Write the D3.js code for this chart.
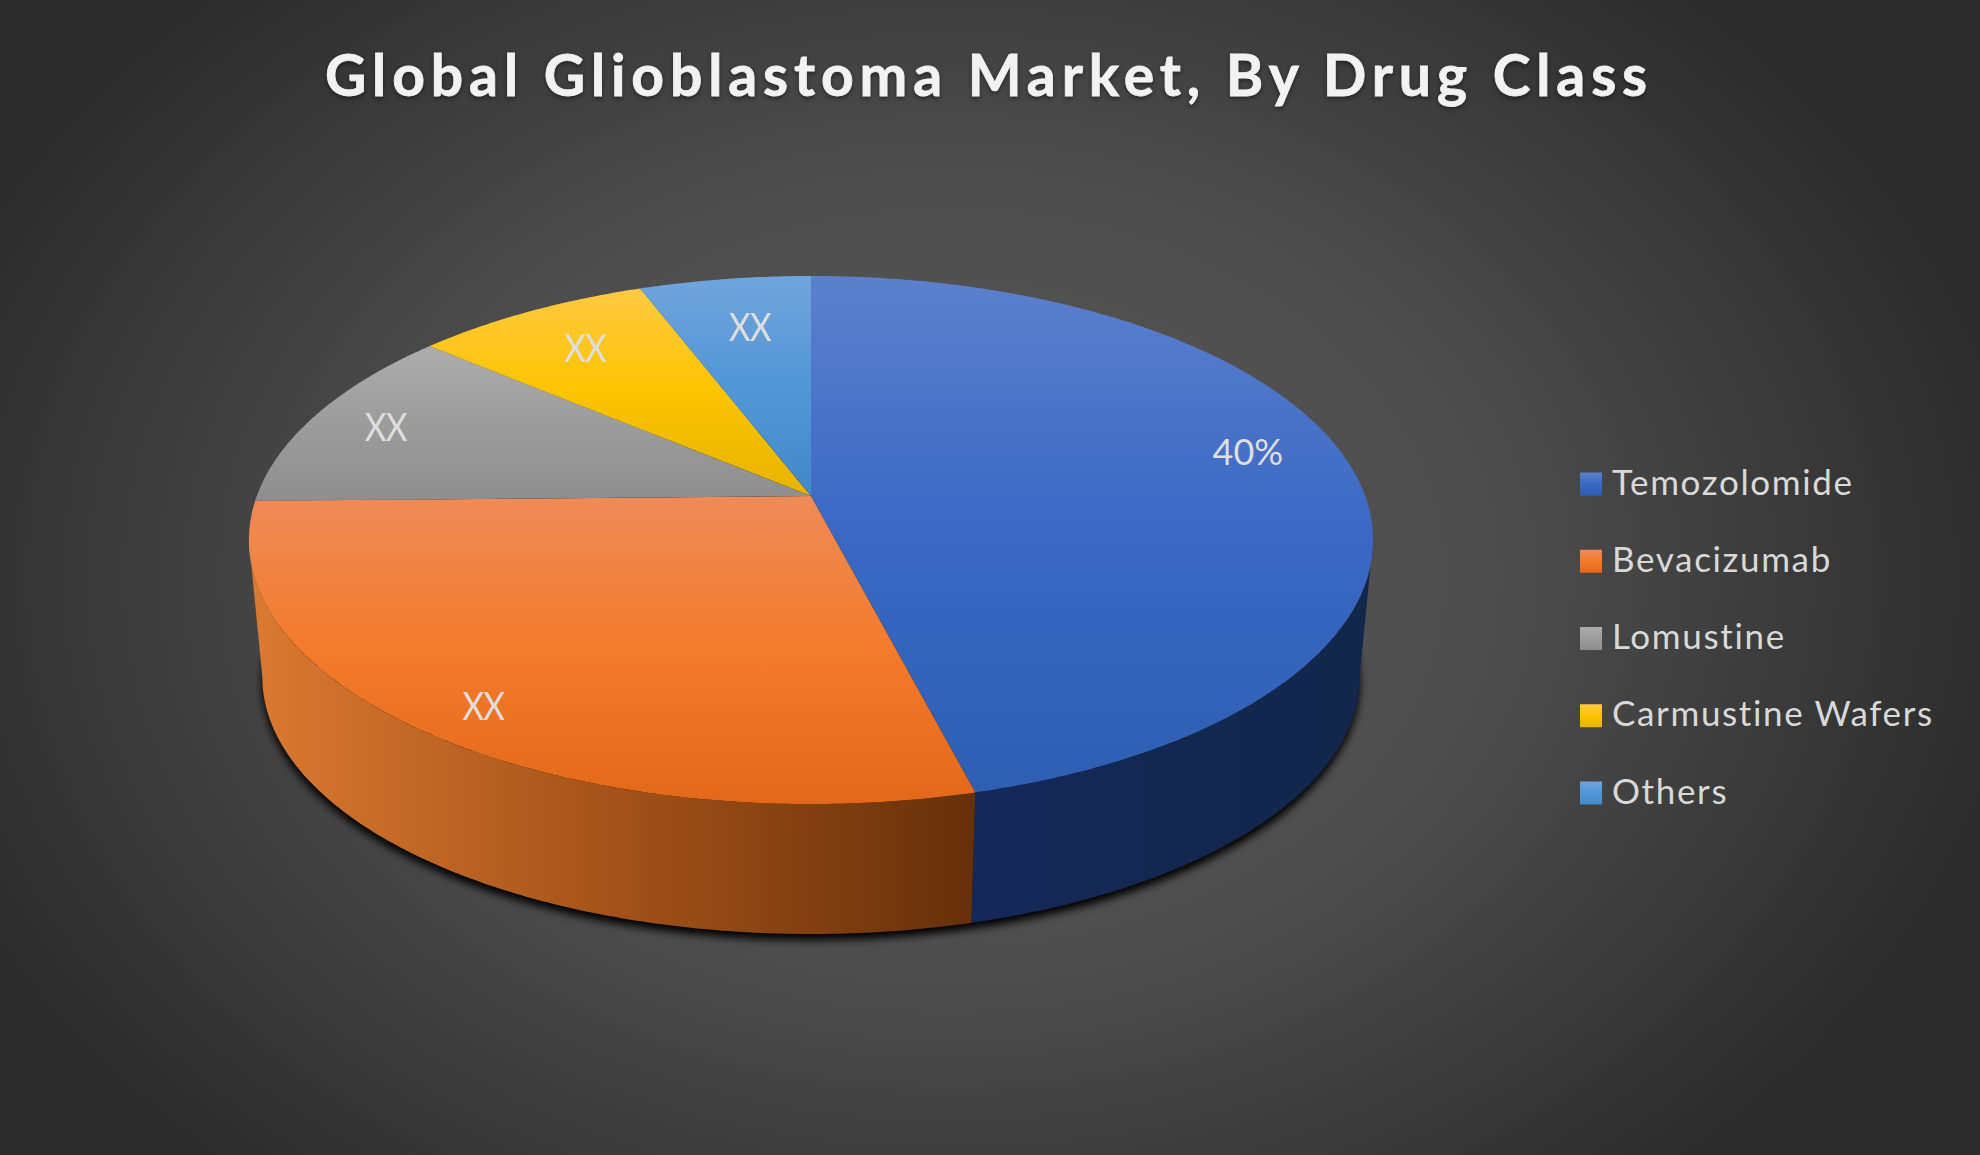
<!DOCTYPE html>
<html>
<head>
<meta charset="utf-8">
<title>Global Glioblastoma Market, By Drug Class</title>
<script src="https://cdn.jsdelivr.net/npm/d3@7"></script>
<style>
    html, body { margin: 0; padding: 0; background: #2b2b2b; overflow: hidden; }
    svg { display: block; }
    text { font-family: Lato, "Open Sans", sans-serif; }
</style>
</head>
<body>
<svg id="chart"></svg>
<script>
// chart values (angles, as % of the circle)
var titleText = "Global Glioblastoma Market, By Drug Class";
var categories = ["Temozolomide", "Bevacizumab", "Lomustine", "Carmustine Wafers", "Others"];
var shares = [46, 28.7, 11.5, 8, 5.8];
var labels = ["40%", "XX", "XX", "XX", "XX"];

// [top of slice, base colour, bottom of slice]
var topColors = [
    ["#5c80cc", "#3a68c4", "#2e5fb3"],
    ["#ee8b58", "#f37b2c", "#e3681a"],
    ["#adadad", "#9c9c9c", "#8e8e8e"],
    ["#ffca42", "#fcc400", "#e5b400"],
    ["#71a4db", "#5296d6", "#4289c8"]
];
var sideColors = [
    ["#14295a", "#132850", "#13274c"],
    ["#db7a32", "#a4521a", "#66300a"],
    ["#777777", "#666666", "#555555"],
    ["#a88000", "#8a6a00", "#705500"],
    ["#2f6a9f", "#28598a", "#204a75"]
];

var width = 1980, height = 1155;
var svg = d3.select("#chart").attr("width", width).attr("height", height);
var defs = svg.append("defs");

// background
var bg = defs.append("radialGradient").attr("id", "bg")
    .attr("gradientUnits", "userSpaceOnUse")
    .attr("cx", 0).attr("cy", 0).attr("r", 1)
    .attr("gradientTransform", "translate(950,577) scale(1090,810)");
bg.append("stop").attr("offset", 0).attr("stop-color", "#5a5a5a");
bg.append("stop").attr("offset", 0.5).attr("stop-color", "#4d4d4d");
bg.append("stop").attr("offset", 1).attr("stop-color", "#2b2b2b");
svg.append("rect").attr("width", width).attr("height", height).attr("fill", "url(#bg)");

// pie disc seen in perspective: circle point -> screen
var cx = 811;
var tilt = 0.1667;
var topPlane = {r: 554.2, a: 256.7, y: 496};
var basePlane = {r: 541, a: 250, y: 634};

function project(plane, angle, radius) {
    var px = Math.sin(angle) * radius;
    var py = -Math.cos(angle) * radius;
    var w = 1 - tilt * py;
    return [cx + plane.r * px / w, plane.y + plane.a * py / w];
}

function arcPoints(plane, a0, a1) {
    var n = Math.max(2, Math.ceil((a1 - a0) / 0.01));
    return d3.range(n + 1).map(function(i) {
        return project(plane, a0 + (a1 - a0) * i / n, 1);
    });
}

var line = d3.line();
var pie = d3.pie().sort(null).startAngle(0).endAngle(2 * Math.PI);
var slices = pie(shares);
var deg = Math.PI / 180;

// side wall shows between the two silhouette angles
var sideFrom = 99.6 * deg, sideTo = 260.4 * deg;

function vGrad(id, c) {
    var g = defs.append("linearGradient").attr("id", id)
        .attr("x1", 0).attr("y1", 0).attr("x2", 0).attr("y2", 1);
    g.append("stop").attr("offset", 0).attr("stop-color", c[0]);
    g.append("stop").attr("offset", 0.5).attr("stop-color", c[1]);
    g.append("stop").attr("offset", 1).attr("stop-color", c[2]);
}

function hGrad(id, c) {
    var g = defs.append("linearGradient").attr("id", id)
        .attr("x1", 0).attr("y1", 0).attr("x2", 1).attr("y2", 0);
    g.append("stop").attr("offset", 0).attr("stop-color", c[0]);
    g.append("stop").attr("offset", 0.5).attr("stop-color", c[1]);
    g.append("stop").attr("offset", 1).attr("stop-color", c[2]);
}

categories.forEach(function(d, i) {
    vGrad("top" + i, topColors[i]);
    hGrad("side" + i, sideColors[i]);
});

// shadow under the disc
defs.append("filter").attr("id", "blur")
    .attr("x", "-5%").attr("y", "-5%").attr("width", "110%").attr("height", "110%")
    .append("feGaussianBlur").attr("stdDeviation", 4);
svg.append("path")
    .attr("d", line(arcPoints(basePlane, 0, 2 * Math.PI)) + "Z")
    .attr("transform", "translate(0,6)")
    .attr("fill", "#000")
    .attr("filter", "url(#blur)");

svg.selectAll("path.side").data(slices).enter().append("path")
    .attr("class", "side")
    .attr("fill", function(d) { return "url(#side" + d.index + ")"; })
    .attr("d", function(d) {
        var a0 = Math.max(d.startAngle, sideFrom);
        var a1 = Math.min(d.endAngle, sideTo);
        if (a1 <= a0) return null;
        return line(arcPoints(topPlane, a0, a1).concat(arcPoints(basePlane, a0, a1).reverse())) + "Z";
    });

// top face
svg.selectAll("path.slice").data(slices).enter().append("path")
    .attr("class", "slice")
    .attr("fill", function(d) { return "url(#top" + d.index + ")"; })
    .attr("d", function(d) {
        return line([[cx, topPlane.y]].concat(arcPoints(topPlane, d.startAngle, d.endAngle))) + "Z";
    });

// data labels
var labelRadius = [0.83, 0.89, 0.85, 0.78, 0.75];
var labelNudge = [-5, -1.5, -0.5, 0, 0.9];
svg.selectAll("text.label").data(slices).enter().append("text")
    .attr("class", "label")
    .attr("text-anchor", "middle")
    .attr("dy", "0.36em")
    .attr("font-size", function(d) { return d.index == 0 ? 36 : 38; })
    .attr("letter-spacing", function(d) { return d.index == 0 ? 0 : -1; })
    .attr("fill", "#dedede")
    .attr("transform", function(d) {
        var mid = (d.startAngle + d.endAngle) / 2 + labelNudge[d.index] * deg;
        var sx = d.index == 0 ? 1 : 0.88;
        return "translate(" + project(topPlane, mid, labelRadius[d.index]) + ") scale(" + sx + ",1)";
    })
    .text(function(d) { return labels[d.index]; });

// title
svg.append("text")
    .attr("x", 989)
    .attr("y", 96)
    .attr("text-anchor", "middle")
    .attr("font-size", 57)
    .attr("font-weight", 700)
    .attr("letter-spacing", 5.9)
    .attr("fill", "#f2f2f2")
    .attr("stroke", "#f2f2f2")
    .attr("stroke-width", 0.8)
    .style("filter", "drop-shadow(0 2px 2px rgba(0,0,0,0.45))")
    .text(titleText);

// legend
var legendY = d3.scalePoint().domain(categories).range([484, 793]);
var legend = svg.selectAll("g.legend").data(categories).enter().append("g")
    .attr("class", "legend")
    .attr("transform", function(d) { return "translate(1580," + legendY(d) + ")"; });
legend.append("rect")
    .attr("y", -11.5)
    .attr("width", 22)
    .attr("height", 23)
    .attr("fill", function(d, i) { return "url(#top" + i + ")"; });
legend.append("text")
    .attr("x", 32)
    .attr("y", 10.5)
    .attr("font-size", 35)
    .attr("letter-spacing", 1.65)
    .attr("fill", "#d9d9d9")
    .text(function(d) { return d; });
</script>
</body>
</html>
